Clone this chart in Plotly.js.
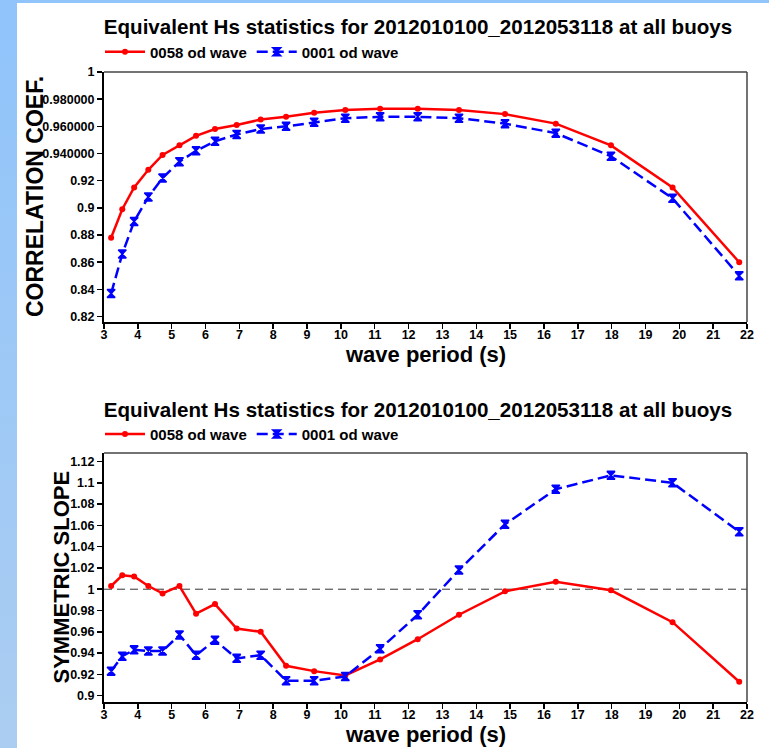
<!DOCTYPE html>
<html>
<head>
<meta charset="utf-8">
<script src="https://cdn.plot.ly/plotly-3.0.1.min.js"></script>
<style>
  html, body { margin: 0; padding: 0; }
  body {
    width: 769px; height: 748px; overflow: hidden; position: relative;
    background: linear-gradient(to bottom, #90c4fb, #abcdf1);
  }
  #panel { position: absolute; left: 17px; top: 3px; width: 752px; height: 745px; background: #fff; }
  #corr { position: absolute; left: 0; top: 0; width: 752px; height: 372px; }
  #slope { position: absolute; left: 0; top: 372px; width: 752px; height: 373px; }
</style>
</head>
<body>
<div id="panel">
  <div id="corr"></div>
  <div id="slope"></div>
</div>
<script>
// Wave period bins (s)
const period = [3.21, 3.54, 3.89, 4.31, 4.73, 5.23, 5.72, 6.28, 6.92, 7.63, 8.38, 9.21,
                10.13, 11.16, 12.27, 13.49, 14.85, 16.35, 17.98, 19.80, 21.77];

// Correlation coefficient per period bin
const corr0058 = [0.878, 0.899, 0.915, 0.928, 0.939, 0.946, 0.953, 0.958, 0.961, 0.965, 0.967,
                  0.970, 0.972, 0.973, 0.973, 0.972, 0.969, 0.962, 0.946, 0.915, 0.860];
const corr0001 = [0.837, 0.866, 0.890, 0.908, 0.922, 0.934, 0.942, 0.949, 0.954, 0.958, 0.960,
                  0.963, 0.966, 0.967, 0.967, 0.966, 0.962, 0.955, 0.938, 0.907, 0.850];

// Symmetric slope per period bin
const slope0058 = [1.003, 1.013, 1.012, 1.003, 0.996, 1.003, 0.977, 0.986, 0.963, 0.960, 0.928,
                   0.923, 0.919, 0.934, 0.953, 0.976, 0.998, 1.007, 0.999, 0.969, 0.913];
const slope0001 = [0.923, 0.937, 0.943, 0.942, 0.942, 0.957, 0.938, 0.952, 0.935, 0.938, 0.914,
                   0.914, 0.918, 0.944, 0.976, 1.018, 1.061, 1.094, 1.107, 1.100, 1.054];

const seriesNames = ['0058 od wave', '0001 od wave'];
const chartTitle = 'Equivalent Hs statistics for 2012010100_2012053118 at all buoys';
const xTitle = 'wave period (s)';
const corrTitle = 'CORRELATION COEF.';
const slopeTitle = 'SYMMETRIC SLOPE';

const xTicks = [3,4,5,6,7,8,9,10,11,12,13,14,15,16,17,18,19,20,21,22];
const corrTickVals = [1, 0.98, 0.96, 0.94, 0.92, 0.9, 0.88, 0.86, 0.84, 0.82];
const corrTickText = ['1', '0.980000', '0.960000', '0.940000', '0.92', '0.9', '0.88', '0.86', '0.84', '0.82'];
const slopeTickVals = [1.12, 1.1, 1.08, 1.06, 1.04, 1.02, 1, 0.98, 0.96, 0.94, 0.92, 0.9];
const slopeTickText = ['1.12', '1.1', '1.08', '1.06', '1.04', '1.02', '1', '0.98', '0.96', '0.94', '0.92', '0.9'];
const slopeReference = 1;

const FONT = 'Liberation Sans, Arial, Helvetica, sans-serif';

function traces(yRed, yBlue) {
  return [
    {
      x: period, y: yRed, name: seriesNames[0], type: 'scatter', mode: 'lines+markers',
      line: { color: '#ff0000', width: 2.5 },
      marker: { color: '#ff0000', size: 6, symbol: 'circle' }
    },
    {
      x: period, y: yBlue, name: seriesNames[1], type: 'scatter', mode: 'lines+markers',
      line: { color: '#0000ff', width: 2.5, dash: '11px,5px' },
      marker: { color: '#0000ff', size: 8, symbol: 'hourglass', line: { color: '#0000ff', width: 1.5 } }
    }
  ];
}

function layout(opts) {
  const plotW = 752 - opts.l - opts.r;
  const plotH = opts.h - opts.t - opts.b;
  return {
    width: 752, height: opts.h,
    margin: { l: opts.l, r: opts.r, t: opts.t, b: opts.b, pad: 0 },
    paper_bgcolor: '#ffffff', plot_bgcolor: '#ffffff',
    font: { family: FONT, color: '#000' },
    showlegend: true,
    title: {
      text: chartTitle, font: { family: FONT, size: 20.6, weight: 'bold', color: '#000' },
      x: 401 / 752, xanchor: 'center', xref: 'container',
      y: 1 - opts.titleY / opts.h, yanchor: 'middle', yref: 'container'
    },
    legend: {
      orientation: 'h', x: -4 / plotW, xanchor: 'left', y: 1 + opts.legendOff / plotH, yanchor: 'middle',
      font: { family: FONT, size: 15, weight: 'bold', color: '#000' },
      bgcolor: 'rgba(0,0,0,0)', itemwidth: 40, tracegroupgap: 0, traceorder: 'normal'
    },
    xaxis: {
      range: [3, 22], tickvals: xTicks, ticktext: xTicks.map(String),
      showgrid: false, zeroline: false, showline: true, linecolor: '#000', linewidth: 2,
      ticks: 'outside', ticklen: 5, tickwidth: 1.5, tickcolor: '#000', ticklabelstandoff: -5,
      tickfont: { family: FONT, size: 12.5, weight: 'bold', color: '#000' }
    },
    yaxis: {
      range: opts.yRange, tickvals: opts.tickVals, ticktext: opts.tickText,
      showgrid: false, zeroline: false, showline: true, linecolor: '#000', linewidth: 2,
      ticks: 'outside', ticklen: 5, tickwidth: 1.5, tickcolor: '#000',
      tickfont: { family: FONT, size: 12.5, weight: 'bold', color: '#000' }
    },
    shapes: [
      // thinner top and right frame edges
      { type: 'line', xref: 'paper', yref: 'paper', x0: 0, x1: 1, y0: 1, y1: 1,
        line: { color: '#444', width: 1.5 } },
      { type: 'line', xref: 'paper', yref: 'paper', x0: 1, x1: 1, y0: 0, y1: 1,
        line: { color: '#444', width: 1.5 } }
    ].concat(opts.extraShapes || []),
    annotations: [
      { text: xTitle, xref: 'paper', yref: 'paper', x: 0.5, y: -opts.xTitleOff / plotH,
        xanchor: 'center', yanchor: 'middle', showarrow: false,
        font: { family: FONT, size: 22, weight: 'bold', color: '#000' } },
      { text: opts.yTitle, xref: 'paper', yref: 'paper', x: -opts.yTitleOff / plotW, y: 0.5,
        xanchor: 'center', yanchor: 'middle', showarrow: false, textangle: -90,
        font: { family: FONT, size: opts.yTitleSize, weight: 'bold', color: '#000' } }
    ]
  };
}

const config = { staticPlot: true, displayModeBar: false };

Plotly.newPlot('corr', traces(corr0058, corr0001), layout({
  h: 372, l: 87, r: 22, t: 69, b: 53,
  titleY: 23.5, legendOff: 20, xTitleOff: 32, yTitleOff: 69, yTitleSize: 23,
  yRange: [0.816, 1.0], tickVals: corrTickVals, tickText: corrTickText,
  yTitle: corrTitle
}), config);

Plotly.newPlot('slope', traces(slope0058, slope0001), layout({
  h: 373, l: 87, r: 22, t: 78, b: 46,
  titleY: 34.5, legendOff: 18.7, xTitleOff: 32, yTitleOff: 43, yTitleSize: 22,
  yRange: [0.894, 1.128], tickVals: slopeTickVals, tickText: slopeTickText,
  yTitle: slopeTitle,
  extraShapes: [
    { type: 'line', xref: 'paper', yref: 'y', x0: 0, x1: 1, y0: slopeReference, y1: slopeReference,
      layer: 'below', line: { color: '#333', width: 1, dash: '8px,5px' } }
  ]
}), config);
</script>
</body>
</html>
